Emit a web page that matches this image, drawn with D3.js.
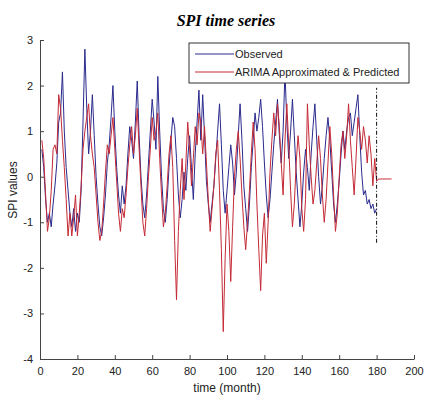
<!DOCTYPE html>
<html>
<head>
<meta charset="utf-8">
<script src="https://cdn.jsdelivr.net/npm/d3@7"></script>
<style>
  body { margin: 0; background: #fff; }
  svg { display: block; font-family: "Liberation Sans", Arial, sans-serif; }
</style>
</head>
<body>
<div id="chart"></div>
<script>
// observed SPI, months 1..180
const observed = [
  0.6, 0.2, -0.5, -1.0, -0.8, -1.1, -0.6, -0.2, 0.3, 1.2,
  1.4, 2.3, 1.0, 0.2, -0.3, -0.8, -1.1, -0.7, -1.2, -0.8,
  -1.0, -0.3, 1.2, 2.8, 1.5, 0.5, 1.0, 1.8, 0.9, 0.0,
  -0.6, -1.1, -1.3, -0.9, -0.4, 0.3, 0.7, 1.3, 2.0, 1.0,
  0.2, -0.4, -0.8, -0.2, -0.6, -0.2, 0.5, 1.1, 0.8, 0.4,
  1.2, 2.1, 0.9, 0.0, -0.6, -0.9, -0.4, 0.3, 1.0, 1.7,
  1.2, 0.6, 2.2, 1.0, 0.0, -0.7, -1.0, -0.5, 0.2, 0.8,
  1.3, 1.1, 0.4, -0.4, -0.9, -0.5, 0.1, -0.3, 0.4, 0.9,
  0.2, -0.5, 0.5, 1.2, 1.9, 0.8, 1.8, 0.9, -0.1, -0.6,
  -1.0, -0.6, -0.2, 0.4, 1.0, 1.6, 0.7, -0.3, -0.8, -0.3,
  0.2, 0.7, 0.3, -0.4, 0.1, 0.9, 1.6, 0.8, -0.2, -0.7,
  -1.2, -0.6, 0.2, 0.8, 1.4, 1.0, 1.3, 1.7, 1.1, 0.3,
  -0.4, -0.9, -0.5, 0.1, 0.7, 1.2, 1.7, 0.9, 0.3, 1.0,
  2.3, 1.2, 0.4, 1.0, 1.7, 0.9, 0.1, -0.5, -1.1, -0.6,
  0.1, 0.6, 0.2, -0.3, 0.5, 1.1, 1.6, 0.8, 0.0, -0.6,
  -0.2, 0.4, 0.9, 1.3, 0.8, 0.1, -0.6, -1.0, -0.6, -0.1,
  0.5, 1.0, 0.6, 1.0, 1.3, 1.4, 0.9, 1.2, 1.5, 1.8,
  0.9, 0.1, -0.4, -0.3, -0.6, -0.5, -0.7, -0.6, -0.8, -0.7
];

// ARIMA approximated (1..180) and predicted (181..188)
const arima = [
  0.8, 0.4, -0.4, -1.2, -0.9, -0.3, 0.6, 0.7, 0.5, 1.8,
  1.5, 0.8, 0.2, -0.5, -1.3, -0.8, -1.3, -0.9, -0.4, -1.3,
  -0.8, -0.2, 0.6, 1.0, 1.3, 1.6, 0.9, 0.5, 0.2, -0.4,
  -1.0, -1.4, -1.2, -0.6, 0.1, 0.7, 0.5, 0.9, 1.3, 0.6,
  -0.1, -0.8, -1.2, -0.7, -0.9, -0.4, 0.2, 0.7, 1.1, 0.5,
  0.9, 1.5, 0.6, -0.2, -1.0, -1.3, -0.7, 0.0, 0.6, 1.3,
  0.8, 1.0, 1.4, 0.4, -0.4, -1.1, -0.8, -0.2, 0.5, 0.9,
  0.2, -1.4, -2.7, -1.2, -0.3, 0.4, -0.5, 0.3, 1.2, 0.6,
  -0.2, 0.4, 1.1, 0.7, 1.4, 1.2, 0.5, 1.1, 0.3, -0.5,
  -1.2, -0.7, -0.2, 0.5, 0.8, -0.3, -1.6, -3.4, -1.8, -0.6,
  -1.2, -2.3, -1.1, 0.0, 0.6, 1.0, 0.4, -0.4, -1.1, -1.6,
  -1.0, -0.3, 0.5, 1.2, 0.6, -0.6, -1.6, -2.5, -1.3, -0.8,
  -1.9, -1.0, 0.1, 0.8, 1.4, 0.9, 1.6, 1.1, 0.3, -0.4,
  0.8, 1.6, 0.7, -0.3, -1.1, -0.6, 0.3, 0.9, 0.4, -0.7,
  -1.2, -0.5, 1.6, 0.7, 0.0, -0.6, -0.3, 0.3, 0.9, 0.4,
  -0.4, -1.0, -0.5, 0.3, 1.1, 0.5, -0.4, -1.2, -0.8, 0.0,
  0.7, 1.0, 0.4, 0.9, 1.6, 0.8, 0.2, -0.4, 0.4, 1.3,
  1.0, 0.6, 1.1, 0.8, 0.3, 0.9, 0.5, -0.2, 0.4, -0.1,
  -0.05, -0.05, -0.05, -0.05, -0.05, -0.05, -0.05, -0.05
];

const xTicks = [0, 20, 40, 60, 80, 100, 120, 140, 160, 180, 200];
const yTicks = [-4, -3, -2, -1, 0, 1, 2, 3];
const seriesNames = ["Observed", "ARIMA Approximated & Predicted"];
const forecastStart = 180;
const forecastLine = [-1.45, 1.95];

const width = 425, height = 398;
const colors = ["#2a2a8e", "#c42a36"];

const x = d3.scaleLinear().domain([0, 200]).range([40, 414]);
const y = d3.scaleLinear().domain([-4, 3]).range([359, 40]);

const svg = d3.select("#chart").append("svg")
  .attr("width", width)
  .attr("height", height);

// title
svg.append("text")
  .attr("x", 226).attr("y", 26)
  .attr("text-anchor", "middle")
  .style("font-family", "'Liberation Serif', 'DejaVu Serif', serif")
  .style("font-weight", "bold")
  .style("font-style", "italic")
  .style("font-size", "16px")
  .text("SPI time series");

// series
const line = d3.line()
  .x((d, i) => x(i + 1))
  .y(d => y(d));

svg.append("path")
  .datum(observed)
  .attr("fill", "none")
  .attr("stroke", colors[0])
  .attr("stroke-width", 1)
  .attr("d", line);

svg.append("path")
  .datum(arima)
  .attr("fill", "none")
  .attr("stroke", colors[1])
  .attr("stroke-width", 1)
  .attr("d", line);

// forecast start marker
svg.append("line")
  .attr("x1", x(forecastStart)).attr("x2", x(forecastStart))
  .attr("y1", y(forecastLine[0])).attr("y2", y(forecastLine[1]))
  .attr("stroke", "#111")
  .attr("stroke-width", 1)
  .attr("stroke-dasharray", "4,2,1,2");

// axes (matlab style, inward ticks)
const fmt = d => String(d);
const xAxis = d3.axisBottom(x).tickValues(xTicks).tickFormat(fmt)
  .tickSizeInner(-4).tickSizeOuter(0).tickPadding(8);
const gx = svg.append("g")
  .attr("transform", `translate(0,${y(-4)})`)
  .call(xAxis);

const yAxis = d3.axisLeft(y).tickValues(yTicks).tickFormat(fmt)
  .tickSizeInner(-4).tickSizeOuter(0).tickPadding(7);
const gy = svg.append("g")
  .attr("transform", `translate(${x(0)},0)`)
  .call(yAxis);

[gx, gy].forEach(g => {
  g.select(".domain").attr("stroke", "#444");
  g.selectAll(".tick line").attr("stroke", "#444");
  g.selectAll(".tick text")
    .attr("fill", "#222")
    .style("font-size", "11px")
    .style("font-family", "'Liberation Sans', Arial, sans-serif");
});

// axis labels
svg.append("text")
  .attr("x", 227).attr("y", 392)
  .attr("text-anchor", "middle")
  .style("font-size", "12px")
  .attr("fill", "#222")
  .text("time (month)");

svg.append("text")
  .attr("transform", "translate(17,190) rotate(-90)")
  .attr("text-anchor", "middle")
  .style("font-size", "12px")
  .attr("fill", "#222")
  .text("SPI values");

// legend
const legend = svg.append("g").attr("transform", "translate(189,43)");
legend.append("rect")
  .attr("width", 220).attr("height", 40)
  .attr("fill", "#fff")
  .attr("stroke", "#333");

legend.selectAll("g")
  .data(seriesNames)
  .enter().append("g")
    .attr("transform", (d, i) => `translate(0,${11 + i * 18})`)
    .call(g => g.append("line")
      .attr("x1", 6).attr("x2", 45)
      .attr("stroke", (d, i) => colors[i])
      .attr("stroke-width", 1))
    .call(g => g.append("text")
      .attr("x", 46)
      .attr("dy", "0.35em")
      .style("font-size", "11px")
      .attr("fill", "#222")
      .text(d => d));
</script>
</body>
</html>
